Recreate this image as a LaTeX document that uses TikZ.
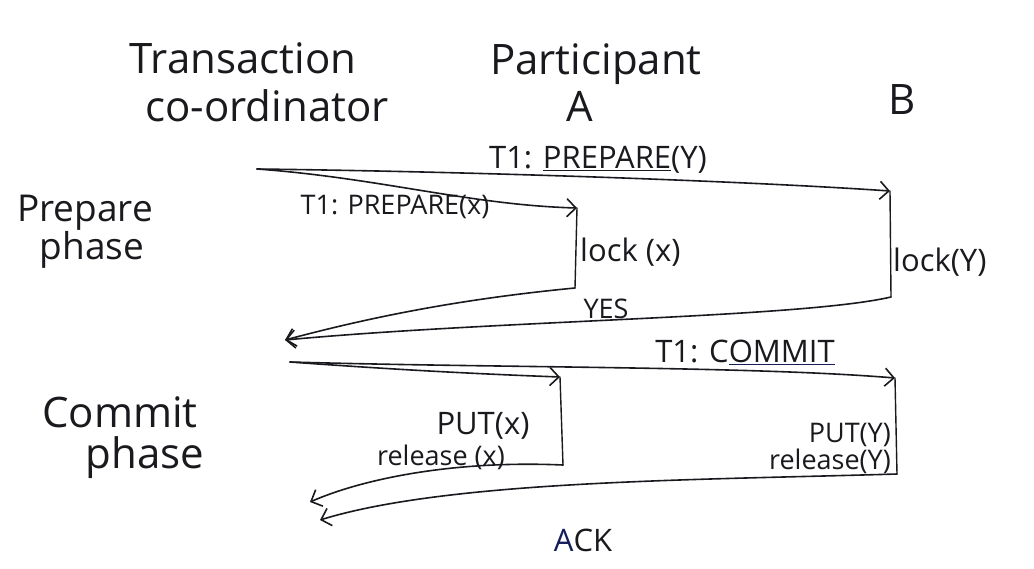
\documentclass[tikz,border=0pt]{standalone}
\usepackage{fontspec}
\setmainfont{Open Sans}
\usetikzlibrary{arrows.meta}
\definecolor{ink}{RGB}{25,25,30}
\definecolor{navy}{RGB}{20,30,90}
\newcommand{\fs}[1]{\fontsize{#1}{#1}\selectfont}
\tikzset{
  ink line/.style={draw=ink, line width=1.6pt, line cap=round},
  msg/.style={ink line, -{Straight Barb[length=9pt,width=18pt,line width=1.6pt]}},
  lifeline/.style={ink line, line width=1.4pt},
  title/.style={text=ink, inner sep=0pt, font=\fs{42}},
  side/.style={text=ink, inner sep=0pt, font=\fs{37}},
  lbl/.style={text=ink, inner sep=0pt, font=\fs{31}},
  small/.style={text=ink, inner sep=0pt, font=\fs{27}},
}
\begin{document}
\begin{tikzpicture}[x=1pt,y=-1pt]
\useasboundingbox (0,0) rectangle (1034,568);
% headings
\node[title] (t1) at (243,58) {Transaction};
\node[title] (t2) at (267,106) {co-ordinator};
\node[title] (p1) at (596,64) {Participant};
\node[title] (pa) at (580,106) {A};
\node[title] (pb) at (902,100) {B};
\node[side] (ph1) at (85,213) {Prepare};
\node[side] (ph2) at (92,250) {phase};
\node[title] (ph3) at (120,412) {Commit};
\node[title] (ph4) at (145,458) {phase};
% coordinates
\coordinate (TC1) at (257,169);
\coordinate (A1) at (577,208);
\coordinate (A2) at (575,288);
\coordinate (B1) at (890,191);
\coordinate (B2) at (891,297);
\coordinate (Y) at (285,340);
\coordinate (TC2) at (290,362);
\coordinate (A3) at (560,377);
\coordinate (A4) at (563,465);
\coordinate (B3) at (895,378);
\coordinate (B4) at (897,474);
\coordinate (K1) at (310,502);
\coordinate (K2) at (320,520);
% prepare phase
\draw[msg] (TC1) .. controls (500,172) and (760,182) .. (B1);
\draw[msg] (TC1) .. controls (380,178) and (470,205) .. (A1);
\draw[lifeline] (A1) -- (A2);
\draw[lifeline] (B1) -- (B2);
\draw[msg] (A2) .. controls (450,300) and (360,320) .. (Y);
\draw[msg] (B2) .. controls (800,318) and (500,320) .. (Y);
% commit phase
\draw[msg] (TC2) .. controls (400,370) and (480,374) .. (A3);
\draw[msg] (TC2) .. controls (500,368) and (750,366) .. (B3);
\draw[lifeline] (A3) -- (A4);
\draw[lifeline] (B3) -- (B4);
\draw[msg] (A4) .. controls (450,460) and (360,480) .. (K1);
\draw[msg] (B4) .. controls (700,480) and (450,480) .. (K2);
% labels
\node[lbl] (l1) at (598,160) {T1: \underline{PREPARE}(Y)};
\node[small] (l2) at (395,207) {T1: PREPARE(x)};
\node[lbl, anchor=west] (l3) at (580,252) {lock (x)};
\node[lbl, anchor=west] (l4) at (893,262) {lock(Y)};
\node[small] (l5) at (606,309) {YES};
\node[lbl] (l6) at (745,352) {T1: C{\color{navy}\underline{\color{ink}OMMIT}}};
\node[lbl] (l7) at (483,426) {PUT(x)};
\node[small] (l8) at (441,457) {release (x)};
\node[small, anchor=east] (l9) at (891,435) {PUT(Y)};
\node[small, anchor=east] (l10) at (891,461) {release(Y)};
\node[lbl] (l11) at (583,540) {\textcolor{navy}{A}CK};
\end{tikzpicture}
\end{document}
